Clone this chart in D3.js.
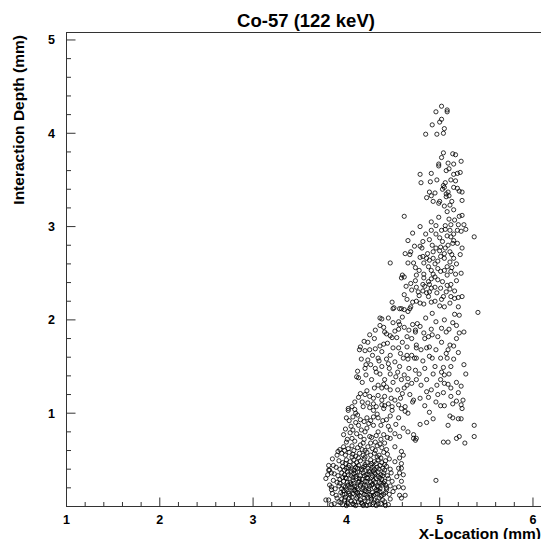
<!DOCTYPE html>
<html>
<head>
<meta charset="utf-8">
<script src="https://cdn.jsdelivr.net/npm/d3@7"></script>
<style>
  html, body { margin: 0; padding: 0; background: #fff; }
  svg { display: block; font-family: "Liberation Sans", Arial, Helvetica, sans-serif; }
</style>
</head>
<body>
<div id="chart"></div>
<script>
// Co-57 (122 keV): interaction depth vs x-location

const chartTitle = 'Co-57 (122 keV)';
const xTitle = 'X-Location (mm)';
const yTitle = 'Interaction Depth (mm)';
const xDomain = [1, 6.1];
const yDomain = [0, 5.08];
const xTickValues = [1, 2, 3, 4, 5, 6];
const yTickValues = [1, 2, 3, 4, 5];

// upper tail (depth above ~2.1 mm)
const tailPoints = [
  [5.02,4.29],[5.08,4.25],[5.08,4.23],[4.96,4.23],[5.02,4.15],[5.00,4.12],[4.92,4.09],[5.05,4.05],
  [4.85,3.99],[4.97,3.99],[5.04,4.00],
  [5.04,3.79],[5.02,3.74],[5.14,3.78],[5.17,3.77],[5.23,3.70],[4.99,3.67],[4.99,3.65],[5.09,3.68],
  [5.15,3.67],[5.07,3.60],[4.79,3.56],[4.91,3.57],[5.15,3.56],[5.19,3.57],[5.22,3.58],[4.97,3.50],
  [4.90,3.48],[4.80,3.47],[5.06,3.47],[5.17,3.49],[5.04,3.44],[5.05,3.42],[5.15,3.42],[5.19,3.41],
  [5.21,3.38],[5.24,3.37],[4.89,3.37],[4.95,3.36],[5.09,3.37],[5.07,3.35],[4.86,3.31],[4.91,3.33],
  [5.10,3.33],[5.07,3.32],[5.00,3.27],[4.99,3.25],[4.93,3.27],[5.13,3.27],[5.11,3.23],[5.05,3.22],
  [5.24,3.28],[5.03,3.40],[5.12,3.50],[5.10,3.62],
  [5.08,3.16],[4.62,3.11],[4.91,3.05],[4.79,3.00],[4.96,3.01],[5.06,3.01],[5.12,3.02],[5.16,3.07],
  [5.21,3.11],[5.24,3.12],[5.26,3.02],[5.28,2.97],[5.19,2.96],[5.11,2.96],[5.06,2.97],[4.91,2.96],
  [4.71,2.93],[4.96,2.92],[5.08,2.90],[5.12,2.89],[5.23,2.95],[5.37,2.89],[4.89,2.86],[4.82,2.84],
  [4.66,2.85],[5.03,2.84],[5.15,2.85],[5.14,2.82],[4.73,2.79],[4.79,2.79],[4.81,2.77],[4.96,2.77],
  [5.01,2.78],[5.06,2.77],[5.24,2.77],[4.69,2.73],[4.63,2.71],[4.68,2.70],[4.93,2.73],[5.00,2.74],
  [5.11,2.73],[5.13,2.70],[5.22,2.70],[4.79,2.67],[4.82,2.68],[4.86,2.66],[4.89,2.64],[4.93,2.66],
  [5.01,2.68],[5.05,2.66],[4.47,2.61],[4.66,2.61],[4.74,2.56],[4.72,2.61],[4.83,2.61],[4.95,2.60],
  [5.11,2.62],[5.08,2.57],[5.13,2.56],[4.98,2.55],[5.01,2.52],[5.05,2.53],[4.91,2.53],[4.60,2.48],
  [4.62,2.46],[4.59,2.45],[4.83,2.49],[4.75,2.48],[5.08,2.48],[5.17,2.49],[5.23,2.50],[4.83,2.45],
  [4.91,2.44],[4.95,2.46],[4.98,2.43],[4.74,2.42],[4.88,2.41],[4.89,2.38],[4.82,2.38],[4.69,2.39],
  [5.08,2.37],[5.12,2.38],[4.64,2.36],[4.84,2.36],[4.91,2.34],[4.95,2.35],[5.01,2.34],[5.11,2.33],
  [4.70,2.32],[4.77,2.30],[4.82,2.31],[4.89,2.30],[5.07,2.30],[4.62,2.27],[4.78,2.26],[4.88,2.25],
  [5.04,2.25],[5.12,2.25],[5.16,2.23],[5.24,2.25],[5.20,2.24],[4.49,2.19],[4.71,2.19],[4.79,2.18],
  [4.83,2.17],[4.91,2.19],[5.00,2.15],[5.11,2.18],[4.51,2.13],[4.59,2.12],[4.69,2.14],[5.05,2.14],
  [5.20,2.14],
  [4.95,2.20],[5.02,2.22],[4.75,2.20],[4.65,2.22],[4.86,2.29],[4.97,2.29],[5.16,2.31],[4.75,2.35],
  [5.03,2.41],[5.18,2.42],[4.93,2.49],[5.12,2.52],[4.78,2.53],[4.88,2.57],[5.18,2.60],[4.98,2.63],
  [5.15,2.66],[4.87,2.71],[5.05,2.71],[4.92,2.80],[5.09,2.80],[5.19,2.82],[5.00,2.88],[5.15,2.92],
  [4.85,2.92],[5.02,2.96],[5.20,3.02],[5.10,3.08],[4.99,3.10],[5.15,3.18]
];

// middle band (depth ~0.7 to 2.1 mm)
const bandPoints = [
  [4.50,2.12],[4.57,2.12],[4.62,2.11],[4.68,2.12],[4.66,2.09],[4.36,2.02],[4.38,2.01],[4.45,2.02],
  [4.56,1.98],[4.57,1.95],[4.71,1.95],[4.76,1.96],[4.31,1.89],[4.36,1.94],[4.41,1.87],[4.47,1.83],
  [4.49,1.81],[4.56,1.90],[4.67,1.89],[4.74,1.87],[4.25,1.84],[4.43,1.85],[4.54,1.81],[4.65,1.82],
  [4.70,1.80],[4.19,1.77],[4.23,1.76],[4.40,1.74],[4.36,1.72],[4.44,1.75],[4.15,1.71],[4.14,1.68],
  [4.20,1.67],[4.25,1.68],[4.31,1.69],[4.56,1.70],[4.65,1.71],[4.75,1.70],[4.65,1.62],[4.61,1.59],
  [4.66,1.58],[4.73,1.59],[4.16,1.58],[4.23,1.57],[4.34,1.59],[4.43,1.58],[4.47,1.62],[4.21,1.52],
  [4.20,1.48],[4.31,1.48],[4.38,1.50],[4.45,1.53],[4.46,1.48],[4.57,1.50],[4.67,1.48],[4.74,1.46],
  [4.11,1.39],[4.13,1.38],[4.21,1.41],[4.36,1.42],[4.47,1.42],[4.53,1.39],[4.59,1.36],[4.65,1.30],
  [4.66,1.37],[4.75,1.36],[4.41,1.36],[4.34,1.30],[4.30,1.27],[4.38,1.27],[4.43,1.28],[4.47,1.25],
  [4.55,1.25],[4.60,1.21],[4.15,1.21],[4.20,1.20],[4.13,1.17],[4.25,1.18],[4.34,1.19],[4.41,1.18],
  [4.48,1.16],[4.52,1.14],[4.68,1.20],[4.72,1.14],[4.09,1.12],[4.17,1.12],[4.23,1.11],[4.29,1.10],
  [4.32,1.07],[4.38,1.09],[4.41,1.08],[4.45,1.10],[4.49,1.07],[4.56,1.09],[4.63,1.07],[4.02,1.05],
  [4.06,1.07],[4.25,1.06],
  [5.41,2.08],[5.21,2.05],[5.14,1.97],[5.18,1.94],[5.21,1.86],[5.26,1.87],[5.18,1.80],[5.05,2.00],
  [4.96,1.98],[5.02,1.91],[5.07,1.87],[4.98,1.82],[4.91,1.90],[4.88,1.82],[4.84,1.80],[4.79,1.93],
  [4.74,1.89],[4.83,1.86],[5.11,1.73],[5.15,1.72],[5.09,1.68],[5.07,1.64],[5.08,1.59],[5.12,1.50],
  [5.04,1.49],[5.02,1.44],[5.05,1.41],[5.26,1.52],[5.01,1.59],[4.96,1.68],[4.89,1.71],[4.86,1.70],
  [4.80,1.68],[4.75,1.73],[4.89,1.61],[4.92,1.59],[4.75,1.59],[4.84,1.48],[4.93,1.42],[4.86,1.36],
  [5.01,1.36],[5.05,1.32],[5.09,1.31],[5.12,1.27],[5.18,1.33],[5.23,1.29],[4.91,1.25],[5.04,1.22],
  [5.20,1.22],[4.79,1.16],[4.71,1.12],[4.96,1.12],[5.05,1.08],[5.01,1.08],[5.14,1.10],[5.18,1.13],
  [5.25,1.14],[5.23,1.09],[4.84,1.08],[4.89,1.01],[4.93,0.94],[4.86,0.90],[4.79,0.88],[5.11,0.97],
  [5.14,0.95],[5.20,0.94],[5.23,0.94],[5.37,0.87],[5.37,0.75],[5.09,0.87],[5.21,0.75],[5.18,0.73],
  [5.27,0.68],[5.04,0.69],[5.09,0.69],[4.72,0.73],[4.74,0.71],[4.96,0.28],
  [4.12,1.45],[4.17,1.33],[4.27,1.36],[4.32,1.44],[4.40,1.31],[4.50,1.33],[4.55,1.44],[4.62,1.41],
  [4.70,1.32],[4.26,1.52],[4.35,1.56],[4.52,1.55],[4.58,1.64],[4.70,1.62],[4.28,1.62],[4.38,1.66],
  [4.50,1.70],[4.60,1.76],[4.30,1.80],[4.40,1.92],[4.52,1.88],[4.62,1.92],[4.60,2.03],[4.50,1.97],
  [4.22,1.24],[4.29,1.16],[4.38,1.14],[4.58,1.16],[4.62,1.27],[4.80,1.30],[4.78,1.42],[4.82,1.56],
  [4.95,1.50],[4.97,1.30],[5.10,1.42],[5.15,1.58],[5.20,1.65],[5.02,1.76],[4.92,1.84],[5.10,1.90],
  [5.16,2.06],[4.85,2.02],[4.92,2.07],[4.98,1.20],[5.12,1.18],[4.88,1.17],[5.28,1.42],[5.24,1.05],
  [4.86,1.23],
  [4.02,1.03],[4.09,1.04],[4.18,1.07],[4.29,1.03],[4.40,1.05],[4.49,1.03],[4.63,1.02],[4.66,1.00],
  [4.59,1.05],[4.00,0.95],[4.07,0.96],[4.15,0.93],[4.22,0.95],[4.29,0.96],[4.34,0.95],[4.47,0.97],
  [4.43,0.93],[4.56,0.95],[4.61,0.84],[4.66,0.80],[4.72,0.77],[4.75,0.73],[3.97,0.77],[4.05,0.86],
  [4.07,0.82],[4.13,0.87],[4.22,0.84],[4.29,0.87],[4.34,0.80],[4.40,0.77],[4.47,0.82],[4.52,0.78],
  [4.47,0.73],[4.57,0.75],[4.25,0.75],[4.15,0.75],[4.06,0.73],[4.00,0.69],[4.18,0.68],[4.31,0.69],
  [4.41,0.68],[4.52,0.64],
  [4.01,0.72],[4.04,0.79],[4.09,0.70],[4.11,0.78],[4.19,0.72],[4.20,0.80],[4.27,0.74],[4.32,0.76],
  [4.37,0.72],[4.44,0.74],[3.99,0.83],[4.10,0.90],[4.16,0.82],[4.24,0.89],[4.37,0.87],[4.45,0.86],
  [4.03,0.92],[4.12,0.98],[4.19,0.91],[4.26,0.92],[4.33,0.99],[4.39,0.92],[4.53,0.88],[4.10,1.00]
];

// dense base near the surface (depth below ~0.7 mm)
const basePoints = [
  [4.59,0.59],[4.61,0.55],[4.57,0.52],[4.59,0.46],[4.56,0.41],[4.57,0.36],[4.54,0.32],[4.59,0.27],
  [4.56,0.21],[4.57,0.12],[4.59,0.09],[3.85,0.51],[3.86,0.44],[3.81,0.39],[3.84,0.36],[3.80,0.34],
  [3.82,0.23],[3.84,0.18],[3.81,0.07],[3.84,0.02],[3.93,0.61],[3.90,0.55],[3.81,0.44],[3.82,0.39],
  [3.78,0.30],[3.91,0.59],[4.52,0.48],[4.59,0.41],[4.61,0.34],[4.61,0.20],[4.63,0.12],[3.78,0.07],
  [3.87,0.03],[3.92,0.05],[3.96,0.02],[4.01,0.04],[4.05,0.06],[4.08,0.02],[4.13,0.05],[4.17,0.03],
  [4.20,0.06],[4.25,0.02],[4.29,0.04],[4.33,0.06],[4.37,0.03],[4.41,0.05],[4.45,0.02],[3.90,0.09],
  [3.99,0.10],[4.11,0.09],[4.23,0.10],[4.35,0.09],[4.47,0.08],
  [3.85,0.14],[3.89,0.12],[3.94,0.15],[3.98,0.13],[4.02,0.16],[4.04,0.12],[4.07,0.14],[4.10,0.16],
  [4.14,0.12],[4.16,0.15],[4.19,0.13],[4.22,0.16],[4.26,0.12],[4.28,0.15],[4.31,0.13],[4.34,0.17],
  [4.38,0.12],[4.42,0.15],[4.46,0.13],[4.50,0.16],
  [3.84,0.21],[3.88,0.19],[3.92,0.22],[3.95,0.19],[3.99,0.21],[4.02,0.23],[4.06,0.20],[4.09,0.22],
  [4.12,0.19],[4.15,0.23],[4.18,0.20],[4.21,0.22],[4.24,0.19],[4.27,0.23],[4.30,0.20],[4.33,0.22],
  [4.36,0.19],[4.39,0.23],[4.43,0.20],[4.47,0.22],[4.52,0.20],
  [3.86,0.28],[3.90,0.26],[3.93,0.29],[3.97,0.27],[4.00,0.30],[4.04,0.26],[4.07,0.28],[4.11,0.30],
  [4.13,0.26],[4.17,0.29],[4.20,0.27],[4.23,0.30],[4.26,0.26],[4.29,0.28],[4.32,0.30],[4.35,0.26],
  [4.38,0.29],[4.41,0.27],[4.45,0.30],[4.49,0.27],
  [3.87,0.35],[3.91,0.33],[3.95,0.36],[3.98,0.34],[4.01,0.37],[4.05,0.33],[4.08,0.35],[4.12,0.37],
  [4.15,0.33],[4.18,0.36],[4.21,0.34],[4.25,0.37],[4.28,0.33],[4.31,0.35],[4.34,0.37],[4.37,0.34],
  [4.40,0.36],[4.44,0.33],[4.48,0.36],
  [3.89,0.42],[3.93,0.40],[3.96,0.43],[4.00,0.41],[4.03,0.44],[4.06,0.40],[4.10,0.42],[4.13,0.44],
  [4.16,0.40],[4.20,0.43],[4.23,0.41],[4.26,0.44],[4.30,0.40],[4.33,0.42],[4.36,0.44],[4.39,0.41],
  [4.43,0.43],[4.47,0.40],
  [3.92,0.49],[3.96,0.47],[4.00,0.50],[4.04,0.48],[4.08,0.50],[4.11,0.47],[4.15,0.49],[4.19,0.51],
  [4.22,0.47],[4.26,0.50],[4.30,0.48],[4.34,0.50],[4.38,0.47],[4.42,0.49],[4.46,0.51],
  [3.95,0.57],[3.99,0.55],[4.03,0.58],[4.07,0.56],[4.10,0.54],[4.14,0.57],[4.18,0.55],[4.22,0.58],
  [4.26,0.55],[4.30,0.57],[4.35,0.55],[4.40,0.58],[4.44,0.56],
  [3.97,0.64],[4.02,0.62],[4.06,0.65],[4.12,0.63],[4.17,0.61],[4.23,0.64],[4.28,0.62],[4.33,0.65],
  [4.38,0.63],[4.43,0.61],
  [3.95,0.08],[4.03,0.09],[4.15,0.07],[4.27,0.08],[4.39,0.07],[3.97,0.17],[4.09,0.18],[4.20,0.17],
  [4.32,0.18],[4.43,0.18],[3.93,0.25],[4.05,0.24],[4.16,0.25],[4.28,0.24],[4.40,0.25],[3.99,0.31],
  [4.10,0.32],[4.22,0.31],[4.34,0.32],[4.05,0.38],[4.17,0.39],[4.29,0.38],[4.41,0.39],[4.08,0.45],
  [4.20,0.45],[4.32,0.46],[4.00,0.01],[4.10,0.01],[4.22,0.01],[4.32,0.01],[4.42,0.01],
  [3.94,0.04],[3.98,0.07],[4.02,0.03],[4.06,0.10],[4.09,0.05],[4.12,0.11],[4.16,0.04],[4.19,0.09],
  [4.23,0.05],[4.26,0.10],[4.30,0.07],[4.34,0.03],[4.37,0.11],[4.07,0.03],[4.18,0.01],[4.28,0.02],
  [3.96,0.13],[4.00,0.18],[4.03,0.14],[4.08,0.17],[4.12,0.14],[4.17,0.18],[4.21,0.12],[4.24,0.17],
  [4.29,0.12],[4.33,0.14],[4.36,0.16],[4.40,0.13],
  [3.97,0.22],[4.01,0.26],[4.04,0.21],[4.08,0.25],[4.11,0.21],[4.14,0.27],[4.19,0.23],[4.22,0.27],
  [4.25,0.22],[4.31,0.26],[4.34,0.21],[4.37,0.25],[4.42,0.23],
  [3.96,0.31],[4.02,0.34],[4.07,0.31],[4.10,0.36],[4.14,0.30],[4.19,0.33],[4.23,0.35],[4.27,0.31],
  [4.30,0.36],[4.36,0.31],[4.39,0.33],
  [3.98,0.39],[4.02,0.42],[4.08,0.39],[4.12,0.41],[4.18,0.42],[4.24,0.38],[4.28,0.42],[4.35,0.40],
  [4.41,0.45],[3.99,0.46],[4.06,0.53],[4.13,0.52],[4.20,0.53],[4.27,0.46],[4.33,0.53],[4.37,0.52],
  [3.98,0.60],[4.08,0.60],[4.15,0.66],[4.20,0.60],[4.26,0.68],[4.31,0.60],[4.36,0.67]
];

const allPoints = tailPoints.concat(bandPoints, basePoints);

const W = 541, H = 539;
const plot = { left: 66.5, right: 542.3, top: 32.5, bottom: 506.5 };

const svg = d3.select('#chart').append('svg')
  .attr('width', W)
  .attr('height', H);

const x = d3.scaleLinear().domain(xDomain).range([plot.left, plot.right]);
const y = d3.scaleLinear().domain(yDomain).range([plot.bottom, plot.top]);

// frame
svg.append('rect')
  .attr('x', plot.left)
  .attr('y', plot.top)
  .attr('width', plot.right - plot.left)
  .attr('height', plot.bottom - plot.top)
  .attr('fill', 'none')
  .attr('stroke', '#333')
  .attr('stroke-width', 1);

// ticks every 0.2, longer ones at whole numbers
const xMinor = d3.range(1, 6.1, 0.2).map(v => +v.toFixed(1));
const yMinor = d3.range(0, 5.01, 0.2).map(v => +v.toFixed(1));
const isMajor = v => Math.abs(v - Math.round(v)) < 1e-6;

const gx = svg.append('g');
gx.selectAll('line')
  .data(xMinor)
  .enter()
  .append('line')
  .attr('x1', d => x(d)).attr('x2', d => x(d))
  .attr('y1', plot.bottom)
  .attr('y2', d => plot.bottom - (isMajor(d) ? 9 : 4.5))
  .attr('stroke', '#333');

gx.selectAll('text')
  .data(xTickValues)
  .enter()
  .append('text')
  .attr('x', d => x(d))
  .attr('y', 524)
  .attr('text-anchor', 'middle')
  .attr('font-size', '12.5px')
  .attr('font-weight', 'bold')
  .text(d => d);

const gy = svg.append('g');
gy.selectAll('line')
  .data(yMinor)
  .enter()
  .append('line')
  .attr('y1', d => y(d)).attr('y2', d => y(d))
  .attr('x1', plot.left)
  .attr('x2', d => plot.left + (isMajor(d) ? 9 : 4.5))
  .attr('stroke', '#333');

gy.selectAll('text')
  .data(yTickValues)
  .enter()
  .append('text')
  .attr('x', 55)
  .attr('y', d => y(d))
  .attr('dy', '0.36em')
  .attr('text-anchor', 'end')
  .attr('font-size', '12.5px')
  .attr('font-weight', 'bold')
  .text(d => d);

// points
svg.append('g')
  .selectAll('circle')
  .data(allPoints)
  .enter()
  .append('circle')
  .attr('cx', d => x(d[0]))
  .attr('cy', d => y(d[1]))
  .attr('r', 2.1)
  .attr('fill', 'none')
  .attr('stroke', '#000')
  .attr('stroke-width', 0.8);

// titles
svg.append('text')
  .attr('x', 306)
  .attr('y', 27)
  .attr('text-anchor', 'middle')
  .attr('font-size', '18.5px')
  .attr('font-weight', 'bold')
  .text(chartTitle);

svg.append('text')
  .attr('x', 541)
  .attr('y', 538.5)
  .attr('text-anchor', 'end')
  .attr('font-size', '15.5px')
  .attr('font-weight', 'bold')
  .text(xTitle);

svg.append('text')
  .attr('transform', 'translate(24,35) rotate(-90)')
  .attr('text-anchor', 'end')
  .attr('font-size', '15.5px')
  .attr('font-weight', 'bold')
  .text(yTitle);
</script>
</body>
</html>
